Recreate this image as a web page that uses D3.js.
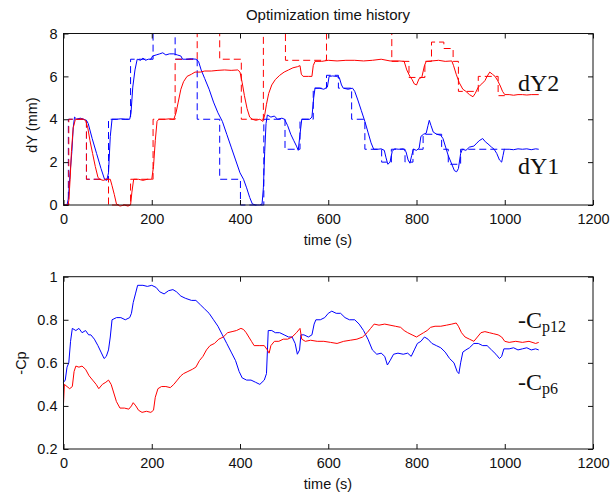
<html>
<head>
<meta charset="utf-8">
<script src="https://d3js.org/d3.v7.min.js"></script>
<style>
  body { margin: 0; background: white; }
</style>
</head>
<body>
<svg id="chart" width="612" height="496" font-family="Liberation Sans, Arial, sans-serif"></svg>
<script>
// ---- data ----
var xTicks = [0, 200, 400, 600, 800, 1000, 1200];
var dyTicks = [0, 2, 4, 6, 8];
var cpTicks = [0.2, 0.4, 0.6, 0.8, 1];

// dY2 setpoint (red dashed), step levels from each start time
var dy2SetTime = [0, 12, 52, 102, 152, 203, 253, 303, 354, 403, 453, 503, 596, 744, 783, 819, 834, 862, 883, 895, 940, 985, 1000];
var dy2SetVal  = [0, 4, 1.2, 0, 1.2, 4, 6.8, 8, 6.8, 4, 8, 6.75, 8, 6.7, 5.95, 6.7, 7.6, 7.3, 6.7, 5.3, 6.0, 5.1, 5.1];

// dY1 setpoint (blue dashed)
var dy1SetTime = [0, 11, 52, 102, 152, 203, 253, 303, 354, 401, 454, 502, 536, 566, 596, 623, 653, 683, 721, 743, 774, 792, 815, 857, 872, 900, 1000];
var dy1SetVal  = [0, 4, 1.2, 4, 6.8, 8, 6.8, 4, 1.2, 0, 4, 2.6, 4, 5.45, 6.05, 5.45, 4, 2.6, 2.0, 2.6, 2.0, 2.6, 3.3, 2.6, 1.9, 2.6, 2.6];

// measured dY1 (blue)
var dy1 = [[0,0],[8,0],[11,0.3],[15,1.5],[19,2.5],[22,3.6],[25,4.1],[30,4.0],[38,4.05],[45,4.0],[52,3.95],[56,3.8],[65,3.1],[75,2.4],[85,1.7],[93,1.2],[98,1.15],[102,1.5],[106,3.2],[110,4.0],[120,4.0],[130,4.02],[140,4.0],[150,4.0],[153,4.3],[157,5.5],[162,6.3],[167,6.8],[175,6.75],[180,6.85],[186,6.75],[192,6.8],[198,6.8],[202,6.95],[210,7.0],[218,7.05],[225,7.1],[232,7.0],[240,7.05],[250,7.05],[258,7.0],[266,6.95],[270,6.8],[280,6.8],[290,6.82],[300,6.8],[306,6.7],[312,6.3],[320,5.9],[330,5.4],[340,4.8],[350,4.3],[360,3.9],[370,3.3],[380,2.7],[390,2.1],[400,1.5],[408,1.2],[415,0.8],[422,0.35],[428,0.05],[435,0],[445,0],[450,0.05],[453,0.8],[456,2.5],[459,3.8],[462,4.2],[470,4.1],[478,4.15],[485,4.0],[495,4.05],[501,4.0],[508,3.7],[515,3.3],[522,3.0],[528,2.75],[532,2.55],[536,3.3],[540,4.0],[550,4.0],[558,4.0],[563,4.1],[567,5.0],[570,5.45],[580,5.45],[590,5.4],[598,5.5],[602,6.0],[610,6.02],[618,6.0],[625,5.95],[630,5.6],[634,5.45],[645,5.4],[655,5.45],[660,5.3],[667,4.9],[675,4.4],[683,3.9],[690,3.4],[697,2.9],[703,2.6],[712,2.6],[720,2.62],[727,2.55],[731,2.2],[735,1.9],[740,2.0],[745,2.5],[750,2.62],[760,2.6],[770,2.62],[776,2.5],[781,2.1],[785,1.95],[789,2.3],[793,2.6],[800,2.55],[806,2.65],[810,3.2],[816,3.3],[822,3.35],[826,3.7],[829,3.95],[833,3.7],[838,3.4],[846,3.3],[855,3.25],[860,3.1],[866,2.7],[872,2.3],[880,1.9],[886,1.6],[891,1.55],[895,1.7],[900,2.4],[904,2.6],[912,2.55],[920,2.7],[930,2.75],[935,2.85],[942,3.0],[950,3.1],[956,2.95],[962,2.85],[970,2.7],[976,2.6],[982,2.4],[988,2.1],[993,2.0],[996,2.3],[999,2.6],[1010,2.6],[1020,2.58],[1030,2.62],[1040,2.6],[1050,2.62],[1060,2.58],[1070,2.62],[1077,2.6]];

// measured dY2 (red)
var dy2 = [[0,0],[10,0],[12,0.2],[15,1.2],[18,2.5],[22,3.6],[27,4.0],[35,4.0],[42,4.02],[50,3.95],[55,3.6],[60,3.0],[66,2.4],[72,1.8],[78,1.3],[82,1.2],[90,1.15],[98,1.2],[106,1.2],[110,0.9],[115,0.5],[120,0.05],[128,-0.05],[138,0],[146,-0.05],[152,0],[155,0.6],[159,1.2],[170,1.2],[180,1.15],[190,1.2],[200,1.2],[204,1.8],[208,3.0],[212,3.9],[216,4.0],[230,4.0],[240,4.02],[250,4.0],[255,4.3],[260,4.8],[266,5.4],[272,5.75],[280,6.0],[290,6.1],[298,6.2],[310,6.2],[320,6.25],[335,6.25],[350,6.28],[365,6.3],[380,6.28],[395,6.3],[400,6.2],[405,5.7],[410,5.1],[416,4.5],[422,4.1],[428,4.0],[436,3.95],[445,4.0],[452,3.9],[456,4.2],[460,4.7],[465,5.2],[472,5.6],[480,5.85],[490,6.05],[500,6.2],[510,6.3],[520,6.4],[530,6.45],[536,6.5],[539,6.1],[543,6.0],[555,6.0],[563,6.0],[566,6.5],[570,6.7],[585,6.7],[600,6.75],[620,6.72],[640,6.75],[660,6.75],[680,6.72],[700,6.75],[720,6.8],[740,6.72],[760,6.72],[772,6.7],[778,6.3],[785,6.0],[790,5.85],[795,5.65],[800,5.6],[806,5.9],[812,5.95],[818,6.5],[822,6.7],[835,6.72],[850,6.75],[865,6.7],[880,6.72],[884,6.5],[890,6.1],[897,5.7],[905,5.4],[912,5.3],[920,5.15],[928,5.05],[933,5.2],[940,5.5],[948,5.65],[955,5.8],[960,6.0],[966,6.2],[972,6.1],[978,6.0],[984,5.8],[990,5.55],[995,5.3],[1000,5.15],[1010,5.15],[1020,5.12],[1030,5.15],[1040,5.15],[1050,5.13],[1060,5.15],[1077,5.15]];

// -Cp6 (blue)
var cp6 = [[0,0.51],[4,0.52],[8,0.58],[12,0.6],[16,0.7],[20,0.76],[28,0.75],[35,0.76],[42,0.74],[50,0.75],[57,0.73],[62,0.73],[70,0.71],[78,0.68],[85,0.65],[92,0.62],[97,0.63],[102,0.66],[106,0.72],[110,0.8],[120,0.81],[130,0.81],[140,0.8],[150,0.81],[154,0.83],[158,0.88],[163,0.92],[168,0.96],[180,0.96],[190,0.955],[200,0.96],[210,0.95],[218,0.93],[228,0.92],[238,0.935],[248,0.94],[256,0.93],[266,0.91],[276,0.9],[290,0.89],[300,0.89],[310,0.87],[320,0.85],[330,0.83],[340,0.8],[350,0.77],[360,0.73],[370,0.69],[380,0.65],[390,0.61],[398,0.56],[405,0.53],[415,0.52],[425,0.52],[435,0.51],[445,0.5],[455,0.52],[460,0.55],[464,0.75],[472,0.75],[480,0.74],[490,0.74],[500,0.73],[510,0.72],[518,0.72],[525,0.69],[530,0.64],[535,0.66],[538,0.73],[545,0.73],[555,0.72],[563,0.73],[568,0.78],[572,0.8],[582,0.8],[592,0.81],[600,0.83],[608,0.84],[618,0.83],[628,0.83],[638,0.81],[648,0.8],[660,0.8],[670,0.78],[680,0.75],[690,0.71],[700,0.66],[710,0.64],[720,0.645],[728,0.63],[734,0.59],[740,0.61],[748,0.64],[758,0.645],[770,0.64],[780,0.645],[788,0.63],[795,0.66],[802,0.69],[810,0.7],[818,0.72],[826,0.71],[835,0.69],[845,0.68],[855,0.67],[865,0.65],[875,0.62],[885,0.6],[892,0.56],[896,0.55],[900,0.6],[905,0.65],[912,0.66],[920,0.67],[930,0.69],[940,0.69],[950,0.68],[960,0.68],[970,0.66],[980,0.64],[988,0.62],[993,0.63],[998,0.665],[1010,0.665],[1020,0.67],[1030,0.66],[1040,0.665],[1050,0.67],[1060,0.66],[1070,0.665],[1077,0.66]];

// -Cp12 (red)
var cp12 = [[0,0.41],[2,0.5],[8,0.49],[14,0.48],[20,0.49],[24,0.56],[28,0.585],[35,0.58],[42,0.585],[50,0.57],[58,0.54],[66,0.52],[74,0.5],[80,0.48],[88,0.5],[96,0.51],[102,0.52],[108,0.5],[114,0.46],[120,0.42],[128,0.39],[138,0.39],[148,0.385],[154,0.4],[158,0.415],[164,0.4],[170,0.38],[178,0.37],[188,0.375],[198,0.37],[204,0.38],[208,0.44],[214,0.48],[222,0.49],[232,0.49],[242,0.485],[250,0.5],[258,0.52],[266,0.54],[272,0.55],[282,0.56],[292,0.57],[300,0.58],[308,0.61],[316,0.63],[324,0.66],[332,0.68],[342,0.69],[352,0.71],[362,0.72],[372,0.74],[382,0.745],[392,0.75],[402,0.76],[408,0.755],[414,0.74],[420,0.72],[426,0.7],[432,0.68],[445,0.68],[455,0.68],[462,0.66],[466,0.645],[470,0.68],[478,0.7],[488,0.7],[498,0.71],[508,0.71],[518,0.72],[528,0.74],[536,0.76],[540,0.71],[548,0.7],[560,0.705],[575,0.7],[590,0.7],[605,0.695],[620,0.69],[635,0.7],[650,0.705],[665,0.71],[678,0.72],[688,0.74],[696,0.76],[704,0.78],[715,0.775],[728,0.78],[740,0.775],[752,0.77],[764,0.765],[772,0.75],[780,0.74],[790,0.73],[800,0.72],[808,0.73],[816,0.74],[824,0.75],[832,0.765],[842,0.77],[855,0.77],[868,0.775],[880,0.78],[890,0.785],[895,0.77],[902,0.74],[910,0.72],[920,0.71],[930,0.7],[938,0.72],[946,0.74],[955,0.745],[965,0.74],[975,0.735],[985,0.73],[993,0.72],[1000,0.7],[1010,0.695],[1025,0.7],[1040,0.695],[1055,0.7],[1070,0.69],[1077,0.695]];

// ---- layout ----
var svg = d3.select("#chart");
var left = 63.5, right = 593;
var x = d3.scaleLinear().domain([0, 1200]).range([left, right]);
var yTop = d3.scaleLinear().domain([0, 8]).range([205, 33.5]);
var yBot = d3.scaleLinear().domain([0.2, 1]).range([449, 276.7]);

function drawAxes(y, yt, fmt) {
  var g = svg.append("g");
  var r = y.range();
  g.append("g").attr("transform", "translate(0," + r[0] + ")")
    .call(d3.axisBottom(x).tickValues(xTicks).tickSize(-5).tickPadding(9).tickFormat(d3.format("d")));
  g.append("g").attr("transform", "translate(0," + r[1] + ")")
    .call(d3.axisTop(x).tickValues(xTicks).tickSize(-5).tickFormat(""));
  g.append("g").attr("transform", "translate(" + left + ",0)")
    .call(d3.axisLeft(y).tickValues(yt).tickSize(-5).tickPadding(6).tickFormat(fmt));
  g.append("g").attr("transform", "translate(" + right + ",0)")
    .call(d3.axisRight(y).tickValues(yt).tickSize(-5).tickFormat(""));
  g.selectAll(".domain").remove();
  g.selectAll("text").attr("font-size", 14.5).attr("font-family", "Liberation Sans, Arial, sans-serif").attr("fill", "#111");
  g.selectAll(".tick line").attr("stroke", "#111");
  g.append("rect").attr("x", left).attr("y", r[1])
    .attr("width", right - left).attr("height", r[0] - r[1])
    .attr("fill", "none").attr("stroke", "#111").attr("stroke-width", 1);
}

function stepLine(times, vals, y, color) {
  var pts = times.map(function (t, i) { return [t, vals[i]]; });
  svg.append("path").datum(pts)
    .attr("d", d3.line().x(d => x(d[0])).y(d => y(d[1])).curve(d3.curveStepAfter))
    .attr("fill", "none").attr("stroke", color).attr("stroke-width", 1)
    .attr("stroke-dasharray", "7,4");
}

function solidLine(pts, y, color) {
  svg.append("path").datum(pts)
    .attr("d", d3.line().x(d => x(d[0])).y(d => y(d[1])))
    .attr("fill", "none").attr("stroke", color).attr("stroke-width", 1);
}

// top plot
stepLine(dy1SetTime, dy1SetVal, yTop, "#0000ff");
stepLine(dy2SetTime, dy2SetVal, yTop, "#ff0000");
solidLine(dy1, yTop, "#0000ff");
solidLine(dy2, yTop, "#ff0000");
drawAxes(yTop, dyTicks, d3.format("d"));

// bottom plot
solidLine(cp6, yBot, "#0000ff");
solidLine(cp12, yBot, "#ff0000");
drawAxes(yBot, cpTicks, d3.format("~g"));

// titles and labels
svg.append("text").attr("x", 328).attr("y", 20).attr("text-anchor", "middle")
  .attr("font-size", 15).attr("fill", "#111").text("Optimization time history");
svg.append("text").attr("x", 328).attr("y", 245).attr("text-anchor", "middle")
  .attr("font-size", 14.5).attr("fill", "#111").text("time (s)");
svg.append("text").attr("x", 328).attr("y", 489).attr("text-anchor", "middle")
  .attr("font-size", 14.5).attr("fill", "#111").text("time (s)");
svg.append("text").attr("transform", "translate(37,125) rotate(-90)").attr("text-anchor", "middle")
  .attr("font-size", 14.5).attr("fill", "#111").text("dY (mm)");
svg.append("text").attr("transform", "translate(26,363) rotate(-90)").attr("text-anchor", "middle")
  .attr("font-size", 14.5).attr("fill", "#111").text("-Cp");

// curve labels
var serif = "Liberation Serif, Times New Roman, serif";
svg.append("text").attr("x", 518).attr("y", 91).attr("font-family", serif)
  .attr("font-size", 24).attr("fill", "#111").text("dY2");
svg.append("text").attr("x", 518).attr("y", 174).attr("font-family", serif)
  .attr("font-size", 24).attr("fill", "#111").text("dY1");
var c12 = svg.append("text").attr("x", 518).attr("y", 328).attr("font-family", serif)
  .attr("font-size", 24).attr("fill", "#111");
c12.append("tspan").text("-C");
c12.append("tspan").attr("font-size", 16).attr("dy", 4).text("p12");
var c6 = svg.append("text").attr("x", 518).attr("y", 390).attr("font-family", serif)
  .attr("font-size", 24).attr("fill", "#111");
c6.append("tspan").text("-C");
c6.append("tspan").attr("font-size", 16).attr("dy", 4).text("p6");
</script>
</body>
</html>
